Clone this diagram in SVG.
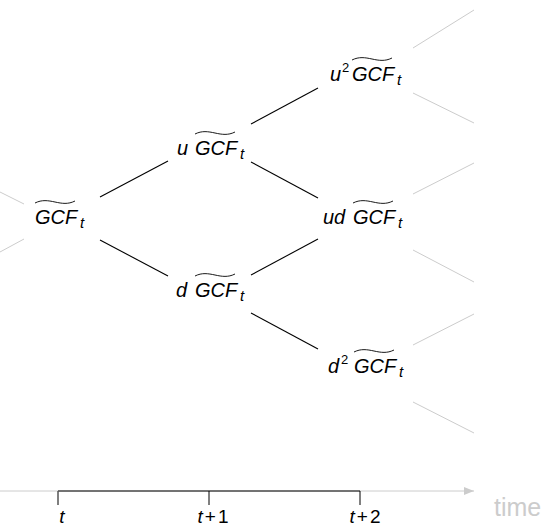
<svg xmlns="http://www.w3.org/2000/svg" width="548" height="528" viewBox="0 0 548 528">
<style>
text{font-family:"Liberation Sans",Arial,sans-serif;font-size:20px;fill:#000}
.it{font-style:italic}
.sub{font-size:15px;font-style:italic}
.sup{font-size:13px}
.lb{font-size:19px}
.e{stroke:#000;stroke-width:1.1;fill:none}
.g{stroke:#cccccc;stroke-width:1;fill:none}
.tl{stroke:#000;stroke-width:0.9;fill:none}
</style>
<defs>
<path id="tilde" d="M0,2 C7,-1.5 13,-0.5 20,1 S33,3.5 40,0"/>
<marker id="ah" markerWidth="10" markerHeight="8" refX="10" refY="4" orient="auto" markerUnits="userSpaceOnUse">
<path d="M0,0 L10,4 L0,8 Z" fill="#cccccc"/>
</marker>
</defs>
<g id="connectors">
<line class="e" x1="100" y1="197" x2="168" y2="161"/>
<line class="e" x1="100" y1="240" x2="168" y2="276"/>
<line class="e" x1="251" y1="124" x2="318" y2="88"/>
<line class="e" x1="251" y1="162" x2="318" y2="198"/>
<line class="e" x1="251" y1="275" x2="318" y2="239"/>
<line class="e" x1="251" y1="313" x2="318" y2="349"/>
<line class="g" x1="0" y1="192" x2="24" y2="204"/>
<line class="g" x1="0" y1="252" x2="24" y2="239"/>
<line class="g" x1="413" y1="48" x2="474" y2="10"/>
<line class="g" x1="413" y1="93" x2="474" y2="123"/>
<line class="g" x1="413" y1="194" x2="474" y2="163"/>
<line class="g" x1="413" y1="250" x2="474" y2="282"/>
<line class="g" x1="413" y1="345" x2="474" y2="314"/>
<line class="g" x1="413" y1="402" x2="474" y2="433"/>
</g>
<g id="n-root">
<text class="it" x="35" y="224">GCF</text><text class="sub" x="80" y="228">t</text>
<use href="#tilde" class="tl" transform="translate(35,201)"/>
</g>
<g id="n-u">
<text class="it" x="177" y="155">u</text><text class="it" x="195" y="155">GCF</text><text class="sub" x="240" y="159">t</text>
<use href="#tilde" class="tl" transform="translate(195,132)"/>
</g>
<g id="n-d">
<text class="it" x="176" y="297">d</text><text class="it" x="195" y="297">GCF</text><text class="sub" x="240" y="301">t</text>
<use href="#tilde" class="tl" transform="translate(195,274)"/>
</g>
<g id="n-uu">
<text class="it" x="330" y="81">u</text><text class="sup" x="342" y="72">2</text><text class="it" x="352" y="81">GCF</text><text class="sub" x="397" y="85">t</text>
<use href="#tilde" class="tl" transform="translate(352,58)"/>
</g>
<g id="n-ud">
<text class="it" x="323" y="224">ud</text><text class="it" x="353" y="224">GCF</text><text class="sub" x="398" y="228">t</text>
<use href="#tilde" class="tl" transform="translate(353,201)"/>
</g>
<g id="n-dd">
<text class="it" x="328" y="373">d</text><text class="sup" x="341" y="364">2</text><text class="it" x="354" y="373">GCF</text><text class="sub" x="399" y="377">t</text>
<use href="#tilde" class="tl" transform="translate(354,350)"/>
</g>
<g id="axis">
<line class="g" x1="0" y1="491" x2="474" y2="491" marker-end="url(#ah)"/>
<line x1="58" y1="491" x2="360" y2="491" stroke="#000" stroke-width="1.2"/>
<line x1="58" y1="491" x2="58" y2="505" stroke="#555" stroke-width="1.5"/>
<line x1="209" y1="491" x2="209" y2="505" stroke="#000" stroke-width="1"/>
<line x1="360" y1="491" x2="360" y2="505" stroke="#000" stroke-width="1"/>
<text class="it lb" x="62" y="523" text-anchor="middle">t</text>
<text class="lb" x="213" y="523" text-anchor="middle"><tspan class="it">t</tspan><tspan dx="2">+</tspan><tspan dx="2">1</tspan></text>
<text class="lb" x="365" y="523" text-anchor="middle"><tspan class="it">t</tspan><tspan dx="2">+</tspan><tspan dx="2">2</tspan></text>
<text x="494" y="516" style="font-size:25px;fill:#cccccc">time</text>
</g>
</svg>
